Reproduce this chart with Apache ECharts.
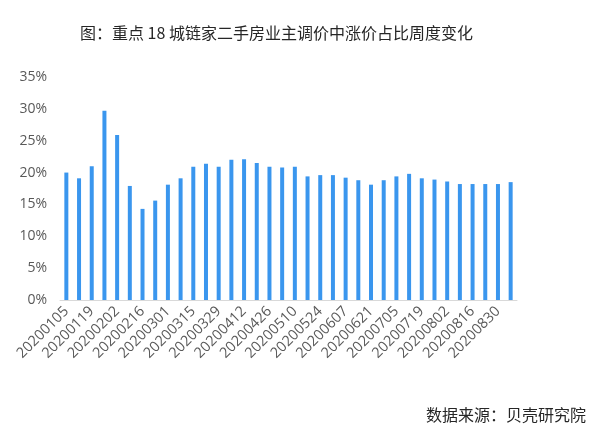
<!DOCTYPE html>
<html><head><meta charset="utf-8">
<script src="https://cdn.jsdelivr.net/npm/echarts@6/dist/echarts.min.js"></script>
<style>html,body{margin:0;padding:0;background:#fff}#c{width:600px;height:437px}</style>
</head><body><div id="c"></div>
<script>
const titleText = '图：重点 18 城链家二手房业主调价中涨价占比周度变化';
const sourceText = '数据来源：贝壳研究院';
const categories = ['20200105','20200112','20200119','20200126','20200202','20200209','20200216','20200223','20200301','20200308','20200315','20200322','20200329','20200405','20200412','20200419','20200426','20200503','20200510','20200517','20200524','20200531','20200607','20200614','20200621','20200628','20200705','20200712','20200719','20200726','20200802','20200809','20200816','20200823','20200830','20200906'];
const values = [20.0,19.1,21.0,29.7,25.9,17.9,14.3,15.6,18.1,19.1,20.9,21.4,20.9,22.0,22.1,21.5,20.9,20.8,20.9,19.4,19.6,19.6,19.2,18.8,18.1,18.8,19.4,19.8,19.1,18.9,18.6,18.2,18.2,18.2,18.2,18.5];
const yTicks = {min:0, max:35, interval:5};

const chart = echarts.init(document.getElementById('c'), null, {renderer:'canvas'});
chart.setOption({
  animation:false,
  textStyle:{fontFamily:'"Noto Sans CJK SC","Noto Sans",sans-serif'},
  title:[
    {text:titleText, left:75, top:20, textStyle:{fontSize:16, fontWeight:'normal', color:'#262626'}},
    {text:sourceText, right:9, top:402, textStyle:{fontSize:16, fontWeight:'normal', color:'#262626'}}
  ],
  grid:{left:60, right:83, top:77, bottom:137},
  xAxis:{
    type:'category', data:categories,
    axisLine:{lineStyle:{color:'#d9d9d9', width:1}},
    axisTick:{show:false},
    axisLabel:{interval:1, rotate:45, color:'#595959', fontSize:14.5, margin:9, fontFamily:'"Open Sans","Noto Sans",sans-serif'}
  },
  yAxis:{
    type:'value', min:yTicks.min, max:yTicks.max, interval:yTicks.interval,
    splitLine:{show:false}, axisLine:{show:false}, axisTick:{show:false},
    axisLabel:{formatter:'{value}%', color:'#595959', fontSize:14, margin:13, fontFamily:'"Open Sans","Noto Sans",sans-serif'}
  },
  series:[{type:'bar', data:values, barWidth:4, itemStyle:{color:'#3A96EE'}}]
});
</script></body></html>
